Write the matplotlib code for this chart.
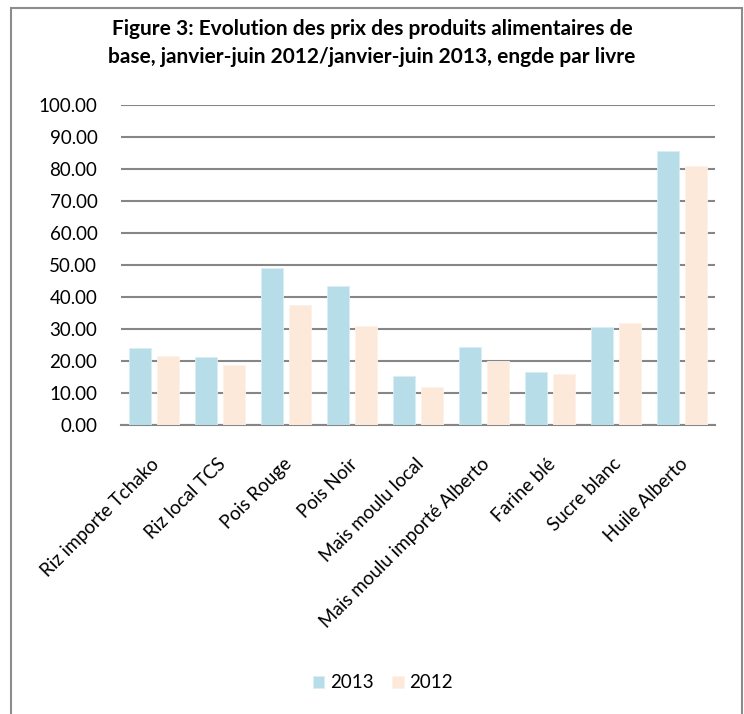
import matplotlib
matplotlib.use("Agg")
import matplotlib.pyplot as plt
from matplotlib.patches import Rectangle
import numpy as np

categories = ["Riz importe Tchako", "Riz local TCS", "Pois Rouge", "Pois Noir",
              "Mais moulu local", "Mais moulu importé Alberto", "Farine blé",
              "Sucre blanc", "Huile Alberto"]
v2013 = [23.9, 21.3, 49.0, 43.3, 15.2, 24.2, 16.5, 30.5, 85.6]
v2012 = [21.4, 18.7, 37.3, 30.8, 11.7, 20.0, 15.8, 31.8, 80.8]
yticks = np.arange(0, 101, 10)

plt.rcParams['font.family'] = ['Lato', 'DejaVu Sans']

W, H = 744, 714
fig = plt.figure(figsize=(W / 100, H / 100), dpi=100)

# outer border
fig.add_artist(Rectangle((11 / W, -0.05), (742 - 11) / W, 1 - 8 / H + 0.05,
                         transform=fig.transFigure, fill=False,
                         edgecolor='#8c8c8c', linewidth=1.5))

ax = fig.add_axes([121 / W, 1 - 424.7 / H, (715 - 121) / W, (424.7 - 104.7) / H])
x = np.arange(len(categories))
off = 0.208
bw = 0.335
ax.bar(x - off, v2013, bw, color='#B7DDE8', edgecolor='#DAEEF3', linewidth=0.6, label='2013', zorder=3)
ax.bar(x + off, v2012, bw, color='#FDE9D9', edgecolor='#FDF2EA', linewidth=0.6, label='2012', zorder=3)

ax.set_xlim(-0.5, len(categories) - 0.5)
ax.set_ylim(0, 100)
ax.set_yticks(yticks)
ax.set_yticklabels([f"{v:.2f}" for v in yticks], fontsize=13.5, color='#000000')
ax.yaxis.grid(True, color='#868686', linewidth=1.5, zorder=0)
ax.set_axisbelow(True)
for s in ['top', 'right', 'left']:
    ax.spines[s].set_visible(False)
ax.spines['bottom'].set_color('#868686')
ax.spines['bottom'].set_linewidth(1.5)
ax.tick_params(axis='both', length=0)
ax.tick_params(axis='y', pad=17)
ax.tick_params(axis='x', pad=22)
ax.set_xticks(x - 0.05)
ax.set_xticklabels(categories, rotation=45, ha='right', va='top',
                   rotation_mode='anchor', fontsize=13.5)

fig.text(0.5, 1 - 43 / H, "Figure 3: Evolution des prix des produits alimentaires de\n"
         "base, janvier-juin 2012/janvier-juin 2013, engde par livre",
         ha='center', va='center', fontsize=15, fontweight='bold',
         linespacing=1.55)

fig.legend(loc='center', bbox_to_anchor=(383 / W, 1 - 683 / H), ncol=2,
           frameon=False, fontsize=13.5, handlelength=0.6, handleheight=0.6,
           handletextpad=0.3, columnspacing=1.0)

fig.savefig("out.png", dpi=100, facecolor='white')
